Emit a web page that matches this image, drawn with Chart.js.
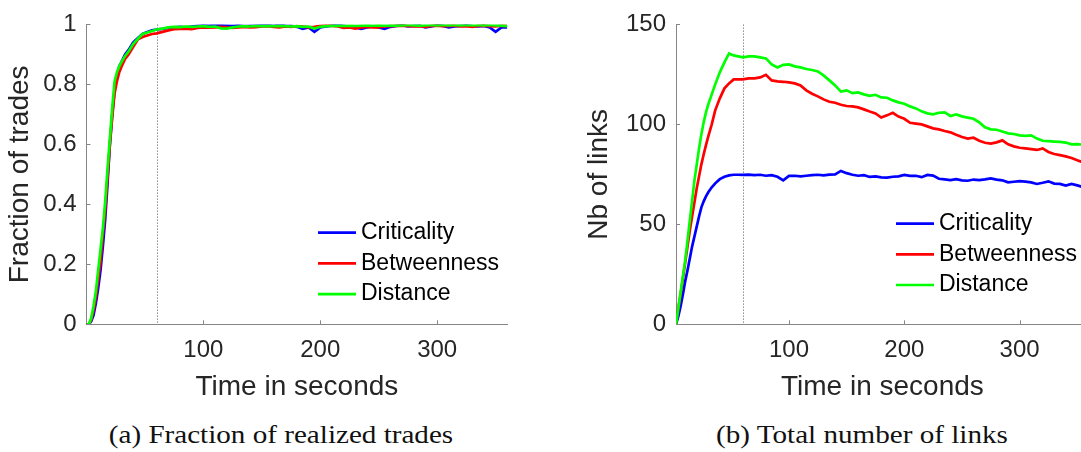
<!DOCTYPE html>
<html>
<head>
<meta charset="utf-8">
<script src="https://cdn.jsdelivr.net/npm/chart.js@4"></script>
<style>
  html, body { margin: 0; padding: 0; background: #fff; }
  body { width: 1081px; height: 452px; overflow: hidden; position: relative; }
  .panel { position: absolute; top: 0; }
  .caption {
    position: absolute; top: 420px; width: 400px; line-height: 30px;
    text-align: center; white-space: nowrap; color: #111;
    font-family: 'Liberation Serif', 'Times New Roman', serif; font-size: 26px;
    transform: scaleX(1.12);
  }
</style>
</head>
<body>
<canvas id="tradesChart" class="panel" width="540" height="410" style="left:0"></canvas>
<canvas id="linksChart" class="panel" width="560" height="410" style="left:540px"></canvas>
<div class="caption" style="left:81px">(a) Fraction of realized trades</div>
<div class="caption" style="left:662px">(b) Total number of links</div>

<script>
// time axis shared by both panels (seconds)
const seconds = [0, 2, 4, 6, 8, 10, 12, 14, 16, 18, 20, 22, 24, 26, 28, 30, 33, 36, 40, 44, 48, 52, 56, 60,
  65, 70, 75, 80, 85, 90, 95, 100, 105, 110, 115, 120, 125, 130, 135, 140, 145, 150, 155, 160,
  165, 170, 175, 180, 185, 190, 195, 200, 205, 210, 215, 220, 225, 230, 235, 240, 245, 250, 255, 260,
  265, 270, 275, 280, 285, 290, 295, 300, 305, 310, 315, 320, 325, 330, 335, 340, 345, 350, 355, 360];

// (a) fraction of realized trades
const tradesCriticality = [0, 0, 0.01, 0.03, 0.07, 0.12, 0.18, 0.26, 0.35, 0.47, 0.6, 0.7, 0.78, 0.83, 0.86, 0.875, 0.9, 0.915, 0.94, 0.955, 0.968, 0.975, 0.98, 0.983,
  0.985, 0.988, 0.99, 0.992, 0.99, 0.993, 0.995, 0.997, 0.996, 0.998,
  0.997, 0.996, 0.995, 0.997, 0.994, 0.995, 0.996, 0.997, 0.998, 0.995,
  0.999, 0.996, 0.995, 0.992, 0.985, 0.99, 0.975, 0.99, 0.993, 0.996,
  0.998, 0.995, 0.992, 0.99, 0.985, 0.99, 0.993, 0.99, 0.985, 0.992,
  0.995, 0.997, 0.993, 0.995, 0.996, 0.99, 0.993, 0.997, 0.995, 0.99,
  0.993, 0.995, 0.997, 0.994, 0.993, 0.995, 0.99, 0.975, 0.99, 0.99];
const tradesBetweenness = [0, 0, 0.015, 0.045, 0.09, 0.15, 0.21, 0.3, 0.38, 0.49, 0.6, 0.69, 0.77, 0.81, 0.84, 0.86, 0.885, 0.9, 0.925, 0.95, 0.958, 0.963, 0.968, 0.97,
  0.975, 0.98, 0.984, 0.985, 0.986, 0.984, 0.988, 0.99, 0.989, 0.99,
  0.992, 0.99, 0.988, 0.99, 0.992, 0.99, 0.991, 0.993, 0.994, 0.992,
  0.99, 0.993, 0.992, 0.994, 0.993, 0.99, 0.992, 0.995, 0.997, 0.995,
  0.993, 0.988, 0.99, 0.986, 0.99, 0.992, 0.99, 0.99, 0.993, 0.994,
  0.995, 0.996, 0.995, 0.993, 0.994, 0.992, 0.995, 0.996, 0.994, 0.995,
  0.996, 0.993, 0.994, 0.992, 0.995, 0.996, 0.994, 0.993, 0.996, 0.995];
const tradesDistance = [0, 0, 0.02, 0.06, 0.11, 0.18, 0.25, 0.32, 0.41, 0.52, 0.62, 0.72, 0.81, 0.84, 0.86, 0.875, 0.895, 0.91, 0.935, 0.952, 0.968, 0.973, 0.978, 0.983,
  0.986, 0.99, 0.992, 0.991, 0.993, 0.992, 0.993, 0.994, 0.992, 0.993,
  0.987, 0.986, 0.99, 0.993, 0.994, 0.993, 0.995, 0.994, 0.995, 0.994,
  0.995, 0.994, 0.993, 0.994, 0.992, 0.993, 0.986, 0.992, 0.994, 0.995,
  0.996, 0.995, 0.996, 0.995, 0.996, 0.997, 0.996, 0.997, 0.996, 0.997,
  0.996, 0.997, 0.998, 0.997, 0.996, 0.997, 0.998, 0.997, 0.998, 0.997,
  0.998, 0.997, 0.998, 0.997, 0.998, 0.997, 0.998, 0.997, 0.996, 0.994];

// (b) total number of links
const linksCriticality = [0, 0, 4, 9, 15, 21.6, 27, 33, 39, 44, 49, 54, 58.5, 61.5, 64, 66, 68.5, 70.5, 72.6, 73.8, 74.5, 74.8, 74.8, 74.7,
  74.9, 74.6, 74.8, 74.3, 74.6, 73.8, 72, 74.2, 74.3, 74,
  74.3, 74.6, 74.8, 74.5, 74.9, 75, 76.7, 75.6, 74.8, 74.3,
  74.6, 73.7, 74, 73.5, 73.4, 73.8, 74, 74.7, 74.2, 74.3,
  73.6, 74.7, 74.4, 72.8, 72.5, 72.1, 72.6, 72, 71.8, 72.4,
  72.1, 72.5, 73, 72.4, 72, 71, 71.3, 71.6, 71.4, 71,
  70.2, 70.8, 71.5, 70.4, 70.2, 69.4, 70.2, 69.5, 68.6, 69];
const linksBetweenness = [0, 0, 8, 15, 23, 31, 39, 47, 54, 61, 68, 74, 80, 85, 89.6, 94, 100, 107, 113, 118, 120.5, 122.5, 122.5, 122.5,
  123, 123, 123.5, 124.8, 122, 121.5, 121.3, 121, 120.5, 119.5,
  117, 115.3, 114, 112.5, 111.3, 110.8, 109.8, 109.2, 109, 108.5,
  107.5, 106.4, 105.5, 103.4, 104.5, 105.8, 103.9, 102.8, 100.8, 100.4,
  100, 99, 98, 97.5, 96.7, 96, 94.8, 93.7, 92.9, 93.3,
  91.8, 90.8, 90.4, 91, 92, 90, 89, 88.3, 88, 87.6,
  87.2, 88, 86.2, 85.2, 84.6, 84, 83.2, 82, 81, 80.5];
const linksDistance = [0, 0, 8, 16, 24, 32, 42, 52, 62, 72, 80, 88, 95, 101, 106, 110, 115, 120, 126, 131, 135.5, 134.5, 134, 133.5,
  134, 134, 133.5, 133, 130, 128.5, 129.8, 130, 129, 128.5,
  127.7, 127.2, 126.5, 124.5, 122, 119.5, 116.4, 117, 115.6, 116,
  115, 114.3, 114.8, 113.5, 113.3, 112, 111, 110.3, 109, 108,
  106.5, 105.5, 105, 105.8, 106, 104.2, 105, 104, 103.4, 102.8,
  101, 98.5, 97.5, 97.3, 96.4, 95.5, 95.2, 94.5, 94.2, 94.5,
  92.9, 91.8, 91.6, 91.4, 91.2, 90.9, 90, 90.1, 89.8, 89.5];

const legendLabels = ['Criticality', 'Betweenness', 'Distance'];
const xTickValues = [100, 200, 300];
const tradesTickValues = [0, 0.2, 0.4, 0.6, 0.8, 1];
const linksTickValues = [0, 50, 100, 150];
const markerTime = 60;

const lineColors = ['#0000ff', '#ff0000', '#00ff00'];
const FONT = "'Liberation Sans', Arial, Helvetica, sans-serif";
const AXIS_COLOR = '#868686';
const TEXT_COLOR = '#262626';

function points(values) {
  return seconds.map((t, i) => ({ x: t, y: values[i] }));
}

// dotted marker, inward tick marks and the legend box
const extras = {
  id: 'extras',
  beforeDatasetsDraw(chart) {
    const { ctx, chartArea: area, scales: { x } } = chart;
    const px = Math.round(x.getPixelForValue(markerTime)) + 0.5;
    ctx.save();
    ctx.strokeStyle = '#8c8c8c';
    ctx.lineWidth = 1;
    ctx.setLineDash([1.5, 1.5]);
    ctx.beginPath();
    ctx.moveTo(px, area.top);
    ctx.lineTo(px, area.bottom);
    ctx.stroke();
    ctx.restore();
  },
  afterDraw(chart, args, opts) {
    const { ctx, chartArea: area, scales: { x, y } } = chart;
    ctx.save();
    ctx.strokeStyle = AXIS_COLOR;
    ctx.lineWidth = 1;
    ctx.beginPath();
    x.ticks.forEach(t => {
      const px = Math.round(x.getPixelForValue(t.value)) + 0.5;
      ctx.moveTo(px, area.bottom);
      ctx.lineTo(px, area.bottom - 4);
    });
    y.ticks.forEach(t => {
      const py = Math.round(y.getPixelForValue(t.value)) + 0.5;
      ctx.moveTo(area.left, py);
      ctx.lineTo(area.left + 4, py);
    });
    ctx.stroke();

    // legend
    ctx.font = '23px ' + FONT;
    ctx.textBaseline = 'middle';
    ctx.textAlign = 'left';
    legendLabels.forEach((label, i) => {
      const ly = opts.y + i * 30.7;
      ctx.strokeStyle = lineColors[i];
      ctx.lineWidth = 2.7;
      ctx.beginPath();
      ctx.moveTo(opts.x, ly);
      ctx.lineTo(opts.x + 38, ly);
      ctx.stroke();
      ctx.fillStyle = '#000';
      ctx.fillText(label, opts.x + 43, ly);
    });
    ctx.restore();
  }
};

function buildChart(canvasId, series, cfg) {
  const ctx = document.getElementById(canvasId).getContext('2d');
  return new Chart(ctx, {
    type: 'line',
    data: {
      datasets: series.map((values, i) => ({
        label: legendLabels[i],
        data: points(values),
        borderColor: lineColors[i],
        borderWidth: 2.7,
        pointRadius: 0,
        tension: 0,
        fill: false,
        order: series.length - i
      }))
    },
    options: {
      responsive: false,
      animation: false,
      events: [],
      layout: { padding: { left: 0, top: 16, right: cfg.padRight, bottom: 0 } },
      plugins: {
        legend: { display: false },
        tooltip: { enabled: false },
        extras: { x: cfg.legendX, y: cfg.legendY }
      },
      scales: {
        x: {
          type: 'linear',
          min: cfg.xMin,
          max: 360,
          afterBuildTicks: s => { s.ticks = xTickValues.map(v => ({ value: v })); },
          afterFit: s => { s.height = 85.7; },
          grid: { display: false, drawTicks: false },
          border: { display: true, color: AXIS_COLOR, width: 1 },
          ticks: { color: TEXT_COLOR, font: { family: FONT, size: 24 }, padding: 12, maxRotation: 0,
                   callback: v => String(v) },
          title: {
            display: true, text: 'Time in seconds', color: TEXT_COLOR,
            font: { family: FONT, size: 28 }, padding: { top: 0, bottom: 6.2 }
          }
        },
        y: {
          type: 'linear',
          min: 0,
          max: cfg.yMax,
          afterBuildTicks: s => { s.ticks = cfg.yTicks.map(v => ({ value: v })); },
          afterFit: s => { s.width = cfg.yWidth; },
          grid: { display: false, drawTicks: false },
          border: { display: true, color: AXIS_COLOR, width: 1 },
          ticks: { color: TEXT_COLOR, font: { family: FONT, size: 24 }, padding: 10,
                   callback: v => String(v) },
          title: {
            display: true, text: cfg.yTitle, color: TEXT_COLOR,
            font: { family: FONT, size: 28 }, padding: { top: cfg.yTitlePad, bottom: 0 }
          }
        }
      }
    },
    plugins: [extras]
  });
}

buildChart('tradesChart', [tradesCriticality, tradesBetweenness, tradesDistance], {
  xMin: 0, yMax: 1, yTicks: tradesTickValues, yTitle: 'Fraction of trades',
  yWidth: 86.5, yTitlePad: 3.5, padRight: 32.7, legendX: 318, legendY: 232.7
});

buildChart('linksChart', [linksCriticality, linksBetweenness, linksDistance], {
  xMin: 2, yMax: 150, yTicks: linksTickValues, yTitle: 'Nb of links',
  yWidth: 136, yTitlePad: 42.6, padRight: 11.2, legendX: 356, legendY: 223.6
});
</script>
</body>
</html>
